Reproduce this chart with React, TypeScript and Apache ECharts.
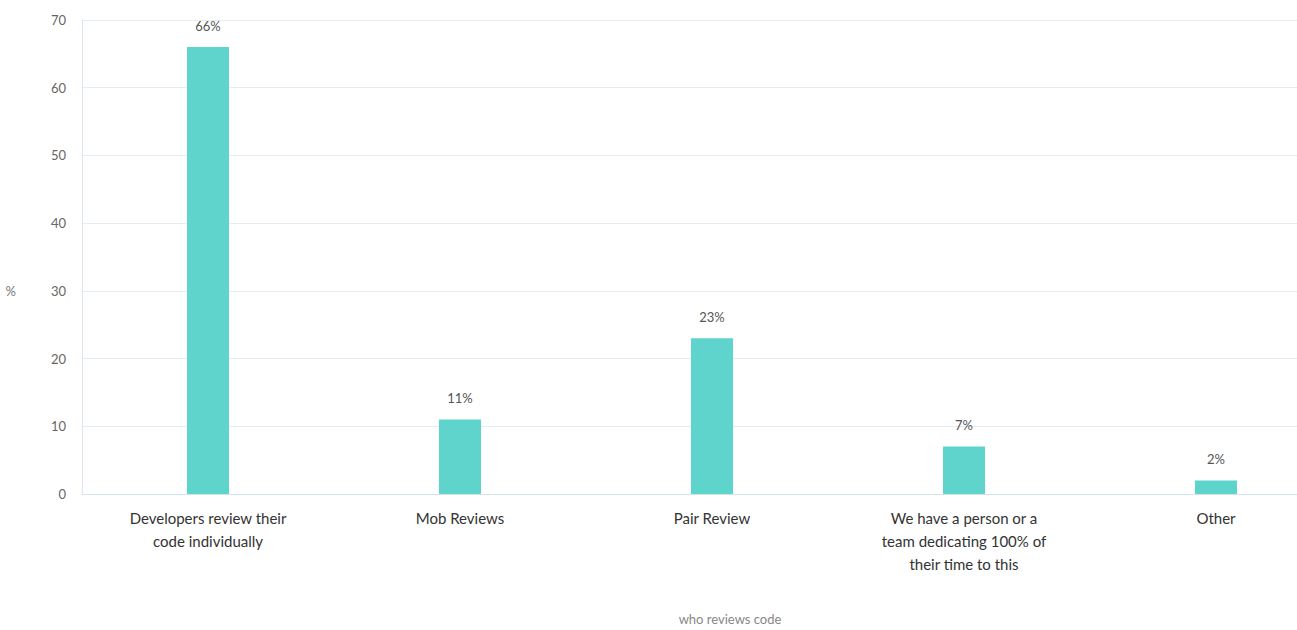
import React, { useEffect, useRef } from "react";
import * as echarts from "echarts";

const categories = [
  "Developers review their\ncode individually",
  "Mob Reviews",
  "Pair Review",
  "We have a person or a\nteam dedicating 100% of\ntheir time to this",
  "Other",
];
const values = [66, 11, 23, 7, 2];
const yTicks = [0, 10, 20, 30, 40, 50, 60, 70];

export default function App() {
  const ref = useRef<HTMLDivElement>(null);
  useEffect(() => {
    document.body.style.margin = "0";
    const chart = echarts.init(ref.current!, null, { renderer: "svg" });
    chart.setOption({
      animation: false,
      textStyle: { fontFamily: "Lato" },
      grid: {
        left: 82,
        right: -45,
        top: 20,
        bottom: 136,
        containLabel: false,
        outerBoundsMode: "none",
      },
      xAxis: {
        type: "category",
        data: categories,
        name: "who reviews code",
        nameLocation: "middle",
        nameGap: 118,
        nameTextStyle: {
          color: "#888",
          fontSize: 13,
          fontFamily: "Lato",
          padding: [0, 0, 0, 36],
        },
        axisLine: { show: true, lineStyle: { color: "#d3e3ea", width: 1 } },
        axisTick: { show: false },
        axisLabel: {
          color: "#333",
          fontSize: 15,
          lineHeight: 23,
          margin: 12,
          interval: 0,
          fontFamily: "Lato",
        },
      },
      yAxis: {
        type: "value",
        min: yTicks[0],
        max: yTicks[yTicks.length - 1],
        interval: 10,
        name: "%",
        nameLocation: "middle",
        nameRotate: 0,
        nameGap: 66,
        nameTextStyle: {
          color: "#777",
          fontSize: 13,
          fontFamily: "Lato",
          verticalAlign: "top",
          padding: [27, 0, 0, 0],
        },
        axisLine: { show: true, lineStyle: { color: "#dbe7ee", width: 1 } },
        axisTick: { show: false },
        axisLabel: { color: "#666", fontSize: 13, margin: 16, fontFamily: "Lato" },
        splitLine: { show: true, lineStyle: { color: "#e3edf3", width: 1 } },
      },
      series: [
        {
          type: "bar",
          data: values,
          barWidth: 42,
          itemStyle: { color: "#5fd4cd" },
          label: {
            show: true,
            position: "top",
            distance: 15,
            formatter: "{c}%",
            color: "#555",
            fontSize: 13,
            fontFamily: "Lato",
          },
        },
      ],
    });
    return () => chart.dispose();
  }, []);
  return (
    <div
      ref={ref}
      style={{ position: "absolute", left: 0, top: 0, width: 1297, height: 630 }}
    />
  );
}
